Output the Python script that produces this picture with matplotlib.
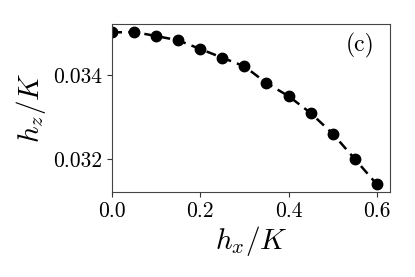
import matplotlib
matplotlib.use("Agg")
import matplotlib.pyplot as plt

plt.rcParams["font.family"] = "serif"
plt.rcParams["font.serif"] = ["cmr10"]
plt.rcParams["mathtext.fontset"] = "cm"
plt.rcParams["axes.formatter.use_mathtext"] = True

hx = [0.0, 0.05, 0.1, 0.15, 0.2, 0.25, 0.3, 0.35, 0.4, 0.45, 0.5, 0.55, 0.6]
hz = [0.03501, 0.03502, 0.034925, 0.034823, 0.034617, 0.03441, 0.034206,
      0.03381, 0.0335, 0.0331, 0.03261, 0.03201, 0.03141]

fig = plt.figure(figsize=(4.15, 2.77), dpi=100)
ax = fig.add_axes([112 / 415, 1 - 192 / 277, 278 / 415, 168 / 277])

ax.plot(hx, hz, color="black", linestyle="dashed", linewidth=1.8,
        marker="o", markersize=7.5, dashes=(4, 2.5))

ax.set_xlim(0, 0.63)
ax.set_ylim(0.031225, 0.03521)
ax.set_xticks([0.0, 0.2, 0.4, 0.6])
ax.set_xticklabels(["0.0", "0.2", "0.4", "0.6"])
ax.set_yticks([0.032, 0.034])
ax.set_yticklabels(["0.032", "0.034"])
ax.tick_params(labelsize=15.5, color="#333333")
for s in ax.spines.values():
    s.set_color("#444444")

ax.set_xlabel(r"$h_x/K$", fontsize=21, labelpad=2)
ax.set_ylabel(r"$h_z/K$", fontsize=21, labelpad=4)
ax.text(0.892, 0.875, "(c)", transform=ax.transAxes, fontsize=17,
        ha="center", va="center")

fig.savefig("out.png", dpi=100)
